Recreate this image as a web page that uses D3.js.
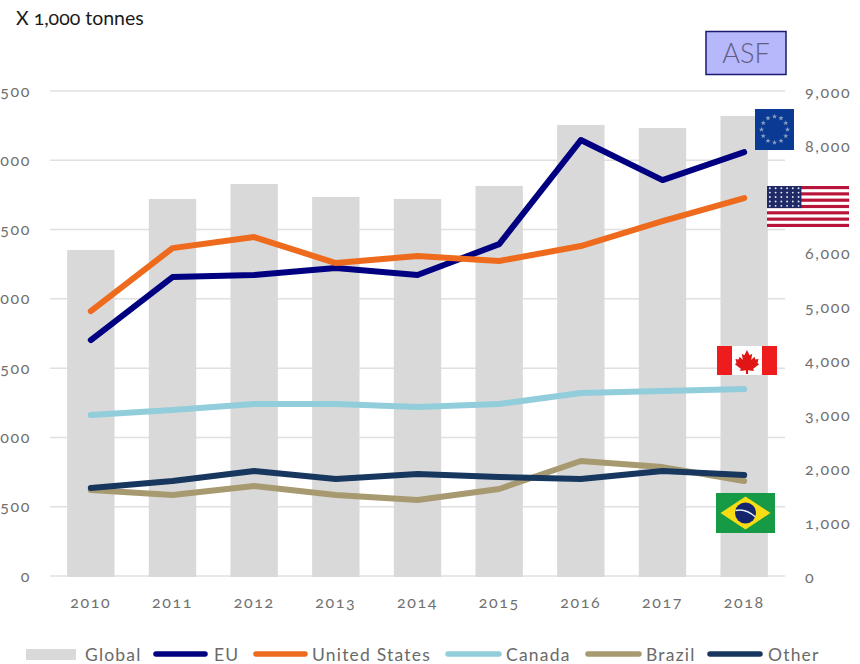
<!DOCTYPE html>
<html><head><meta charset="utf-8">
<script src="https://cdn.jsdelivr.net/npm/d3@7"></script>
<style>
html,body{margin:0;padding:0;background:#fff;overflow:hidden}
svg{display:block}
text{font-family:Lato,"Open Sans",sans-serif}
.tick-t{font-size:16px;fill:#707070;letter-spacing:1.6px;font-variant-numeric:oldstyle-nums;font-feature-settings:"onum" 1}
.leg{font-size:17.5px;fill:#6a6a6a;letter-spacing:1.2px}
</style></head><body>
<svg id="c" width="860" height="664"></svg>
<script>
const years = ["2010","2011","2012","2013","2014","2015","2016","2017","2018"];
const global = [6069,7016,7294,7053,7016,7257,8389,8333,8556];
const eu = [1703,2157,2172,2222,2172,2395,3146,2857,3059];
const us = [1912,2366,2446,2258,2309,2273,2381,2561,2727];
const canada = [1162,1198,1241,1241,1219,1241,1320,1335,1349];
const brazil = [620,584,649,584,548,628,830,786,685];
const other = [635,685,758,700,736,714,700,758,729];
const leftTicks = [0,500,1000,1500,2000,2500,3000,3500];
const rightTicks = [0,1000,2000,3000,4000,5000,6000,7000,8000,9000];
const lineNames = ["EU","United States","Canada","Brazil","Other"];
const lineSeries = [eu,us,canada,brazil,other];
const lineColors = ["#000080","#ee6a1c","#92cddc","#a89a70","#17375e"];

const svg = d3.select("#c");
const x = d3.scaleBand().domain(years).range([50,785]).paddingInner(0.42).paddingOuter(0.21);
const yL = d3.scaleLinear().domain([0,3500]).range([576,91]);
const yR = d3.scaleLinear().domain([0,9000]).range([577,92]);
const fmt = d3.format(",");
const cx = d => x(d)+x.bandwidth()/2;

// gridlines
svg.append("g").selectAll("line").data(leftTicks).join("line")
  .attr("x1",50).attr("x2",785).attr("y1",d=>yL(d)).attr("y2",d=>yL(d))
  .attr("stroke","#e0e0e0").attr("stroke-width",1.5);

// bars
svg.append("g").selectAll("rect").data(years).join("rect")
  .attr("x",d=>x(d)).attr("width",x.bandwidth())
  .attr("y",(d,i)=>yR(global[i])).attr("height",(d,i)=>yR(0)-yR(global[i]))
  .attr("fill","#d9d9d9");

// lines
const line = d3.line().x((d,i)=>cx(years[i])).y(d=>yL(d));
svg.append("g").selectAll("path").data(lineSeries).join("path")
  .attr("d",line).attr("fill","none")
  .attr("stroke",(d,i)=>lineColors[i]).attr("stroke-width",6)
  .attr("stroke-linecap","round").attr("stroke-linejoin","round");

// axes
const axL = svg.append("g").attr("transform","translate(31,0)")
  .call(d3.axisLeft(yL).tickValues(leftTicks).tickFormat(fmt).tickSize(0).tickPadding(0));
const axR = svg.append("g").attr("transform","translate(805,0)")
  .call(d3.axisRight(yR).tickValues(rightTicks).tickFormat(fmt).tickSize(0).tickPadding(0));
const axB = svg.append("g").attr("transform","translate(0,597)")
  .call(d3.axisBottom(x).tickSize(0).tickPadding(0));
[axL,axR,axB].forEach(a=>{a.select(".domain").remove();a.selectAll("text").attr("class","tick-t").attr("style",null);a.attr("font-family",null).attr("font-size",null);});
axB.selectAll("text").attr("dy","0.71em");

// unit label
svg.append("text").attr("x",16).attr("y",25).text("X 1,000 tonnes")
  .attr("font-size",19.5).attr("fill","#1a1a1a")
  .style("font-feature-settings",'"onum" 1');

// ASF box
const asf = svg.append("g");
asf.append("rect").attr("x",706).attr("y",31.5).attr("width",80).attr("height",43)
  .attr("fill","#b7b7fb").attr("stroke","#1a1a70").attr("stroke-width",1.5);
asf.append("text").attr("x",746).attr("y",63).attr("text-anchor","middle")
  .attr("font-size",27).attr("font-weight",300).attr("fill","#5f5f80").text("ASF");

// flags
function eu_flag(gx,gy,w,h){
  const g=svg.append("g").attr("transform",`translate(${gx},${gy})`);
  g.append("rect").attr("width",w).attr("height",h).attr("fill","#0b3a94");
  const star=d3.symbol().type(d3.symbolStar).size(9);
  d3.range(12).forEach(i=>{const a=i/12*2*Math.PI;
    g.append("path").attr("d",star).attr("fill","#8fa3c0")
     .attr("transform",`translate(${w/2+13*Math.sin(a)},${h/2-13*Math.cos(a)})`);});
}
function us_flag(gx,gy,w,h){
  const g=svg.append("g").attr("transform",`translate(${gx},${gy})`);
  g.append("rect").attr("width",w).attr("height",h).attr("fill","#fff");
  const s=h/13;
  d3.range(0,13,2).forEach(i=>g.append("rect").attr("y",i*s).attr("width",w).attr("height",s).attr("fill","#b9153a"));
  const cw=w*0.42,ch=s*7;
  g.append("rect").attr("width",cw).attr("height",ch).attr("fill","#1f2a66");
  d3.range(5).forEach(r=>d3.range(6).forEach(c=>g.append("circle")
    .attr("cx",(c+0.5)*cw/6).attr("cy",(r+0.5)*ch/5).attr("r",0.95).attr("fill","#e8e8f2")));
}
function ca_flag(gx,gy,w,h){
  const g=svg.append("g").attr("transform",`translate(${gx},${gy})`);
  g.append("rect").attr("width",w).attr("height",h).attr("fill","#fff");
  g.append("rect").attr("width",w/4).attr("height",h).attr("fill","#ee1c1c");
  g.append("rect").attr("x",w*0.75).attr("width",w/4).attr("height",h).attr("fill","#ee1c1c");
  g.append("path").attr("fill","#e01515").attr("transform",`translate(${w/2},${h/2+1}) scale(1.05)`)
   .attr("d","M0,-11 L2.5,-6 L5,-7.5 L4,-1.5 L7,-4.5 L8,-2 L11,-2.5 L10,1.5 L11.5,2.5 L6,7 L6.5,9 L1,8.3 L1,12 L-1,12 L-1,8.3 L-6.5,9 L-6,7 L-11.5,2.5 L-10,1.5 L-11,-2.5 L-8,-2 L-7,-4.5 L-4,-1.5 L-5,-7.5 L-2.5,-6 Z");
}
function br_flag(gx,gy,w,h){
  const g=svg.append("g").attr("transform",`translate(${gx},${gy})`);
  g.append("rect").attr("width",w).attr("height",h).attr("fill","#179a45");
  g.append("path").attr("fill","#f7dc15").attr("d",`M${w/2},3.5 L${w-4.5},${h/2} L${w/2},${h-3.5} L4.5,${h/2} Z`);
  g.append("circle").attr("cx",w/2).attr("cy",h/2).attr("r",10.5).attr("fill","#14256e");
  g.append("path").attr("d",`M${w/2-10},${h/2-2.5} Q${w/2},${h/2-5} ${w/2+10},${h/2+4}`)
    .attr("fill","none").attr("stroke","#e8eef0").attr("stroke-width",1.5);
}
eu_flag(755,109,39,41);
us_flag(767,186,82,41);
ca_flag(717,346,60,29);
br_flag(716,493,59,40);

// legend
const leg=svg.append("g");
leg.append("rect").attr("x",26).attr("y",649).attr("width",50).attr("height",11).attr("fill","#d9d9d9");
leg.append("text").attr("class","leg").attr("x",85).attr("y",661).text("Global");
const legLine=[[153,208,214],[253,308,312],[445,502,506],[585,642,646],[707,763,768]];
lineNames.forEach((n,i)=>{
  leg.append("line").attr("x1",legLine[i][0]+3).attr("x2",legLine[i][1]-3).attr("y1",654).attr("y2",654)
    .attr("stroke",lineColors[i]).attr("stroke-width",5.5).attr("stroke-linecap","round");
  leg.append("text").attr("class","leg").attr("x",legLine[i][2]).attr("y",661).text(n);
});
</script>
</body></html>
